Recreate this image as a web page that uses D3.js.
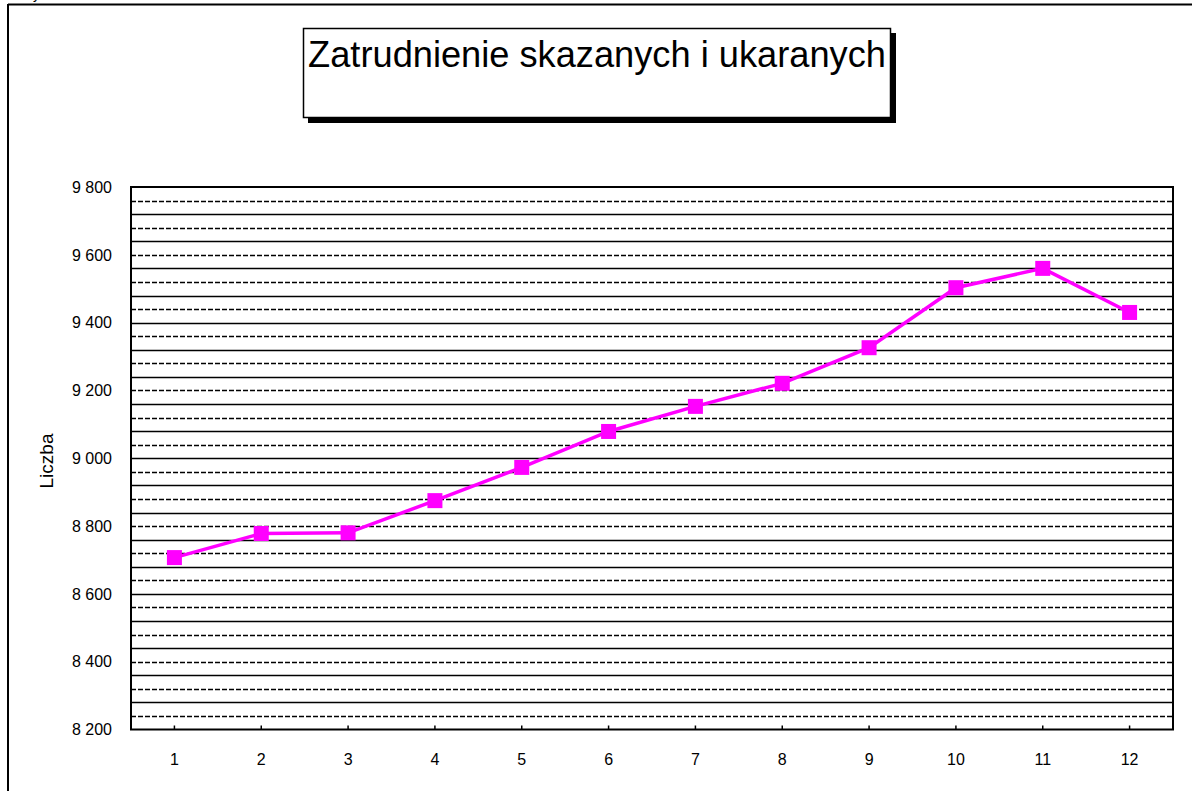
<!DOCTYPE html>
<html><head><meta charset="utf-8">
<script src="https://cdn.jsdelivr.net/npm/d3@7"></script>
<style>body{margin:0;background:#fff}svg{display:block}text{font-family:"Liberation Sans",Arial,sans-serif}</style>
</head><body>
<svg id="c" width="1192" height="791"></svg>
<script>
const categories = ["1","2","3","4","5","6","7","8","9","10","11","12"];
const values = [8707, 8778, 8780, 8875, 8973, 9079, 9153, 9221, 9326, 9503, 9560, 9430];
const yTicks = [8200, 8400, 8600, 8800, 9000, 9200, 9400, 9600, 9800];
const title = "Zatrudnienie skazanych i ukaranych";
const yTitle = "Liczba";

const svg = d3.select("#c");
const m = {left:131, right:1173, top:187, bottom:729.5};
const x = d3.scaleBand().domain(categories).range([m.left, m.right]);
const y = d3.scaleLinear().domain([8200, 9800]).range([m.bottom, m.top]);
const fmt = d3.formatLocale({decimal:",", thousands:" ", grouping:[3], currency:["",""]}).format(",d");

// outer frame
svg.append("line").attr("x1",8).attr("x2",1192).attr("y1",4.5).attr("y2",4.5).attr("stroke","#000").attr("stroke-width",2);
svg.append("line").attr("x1",8).attr("x2",8).attr("y1",4).attr("y2",791).attr("stroke","#000").attr("stroke-width",2);
svg.append("text").attr("x",33).attr("y",-1).attr("font-size",14).text("y");

// title box with shadow
svg.append("rect").attr("x",308).attr("y",33).attr("width",588).attr("height",90).attr("fill","#000");
svg.append("rect").attr("x",303.5).attr("y",28.5).attr("width",587).attr("height",89).attr("fill","#fff").attr("stroke","#000").attr("stroke-width",1.5);
const t = svg.append("text").attr("x",597).attr("y",67).attr("text-anchor","middle").attr("font-size",36).text(title);
const tw = t.node().getComputedTextLength();
t.attr("font-size", 36*578/tw);

// gridlines every 40
const gridVals = d3.range(8240, 9800, 40);
svg.append("g").selectAll("line").data(gridVals).join("line")
  .attr("x1",m.left).attr("x2",m.right)
  .attr("y1",d=>Math.round(y(d))+0.5).attr("y2",d=>Math.round(y(d))+0.5)
  .attr("stroke","#000").attr("stroke-width",1.3)
  .attr("stroke-dasharray",d=>((9800-d)/40)%2===1?"5,2":null);

// plot border
svg.append("rect").attr("x",m.left).attr("y",m.top).attr("width",m.right-m.left).attr("height",m.bottom-m.top)
  .attr("fill","none").attr("stroke","#000").attr("stroke-width",2);

// y axis labels
svg.append("g").selectAll("text").data(yTicks).join("text")
  .attr("x",112).attr("y",d=>y(d)).attr("dy","0.36em").attr("text-anchor","end").attr("font-size",16).text(d=>fmt(d));

// x ticks and labels
svg.append("g").selectAll("line").data(categories).join("line")
  .attr("x1",d=>x(d)+x.bandwidth()/2).attr("x2",d=>x(d)+x.bandwidth()/2)
  .attr("y1",m.bottom).attr("y2",m.bottom-4).attr("stroke","#000").attr("stroke-width",1.5);
svg.append("g").selectAll("text").data(categories).join("text")
  .attr("x",d=>x(d)+x.bandwidth()/2).attr("y",759).attr("dy","0.36em").attr("text-anchor","middle").attr("font-size",16).text(d=>d);

// y title
svg.append("text").attr("transform","translate(53,461) rotate(-90)").attr("text-anchor","middle").attr("font-size",19).text(yTitle);

// series
const pts = categories.map((c,i)=>[x(c)+x.bandwidth()/2, y(values[i])]);
svg.append("path").attr("d",d3.line()(pts)).attr("fill","none").attr("stroke","#ff00ff").attr("stroke-width",3.5);
svg.append("g").selectAll("rect").data(pts).join("rect")
  .attr("x",d=>d[0]-7.5).attr("y",d=>d[1]-7.5).attr("width",15).attr("height",15).attr("fill","#ff00ff");
</script>
</body></html>
